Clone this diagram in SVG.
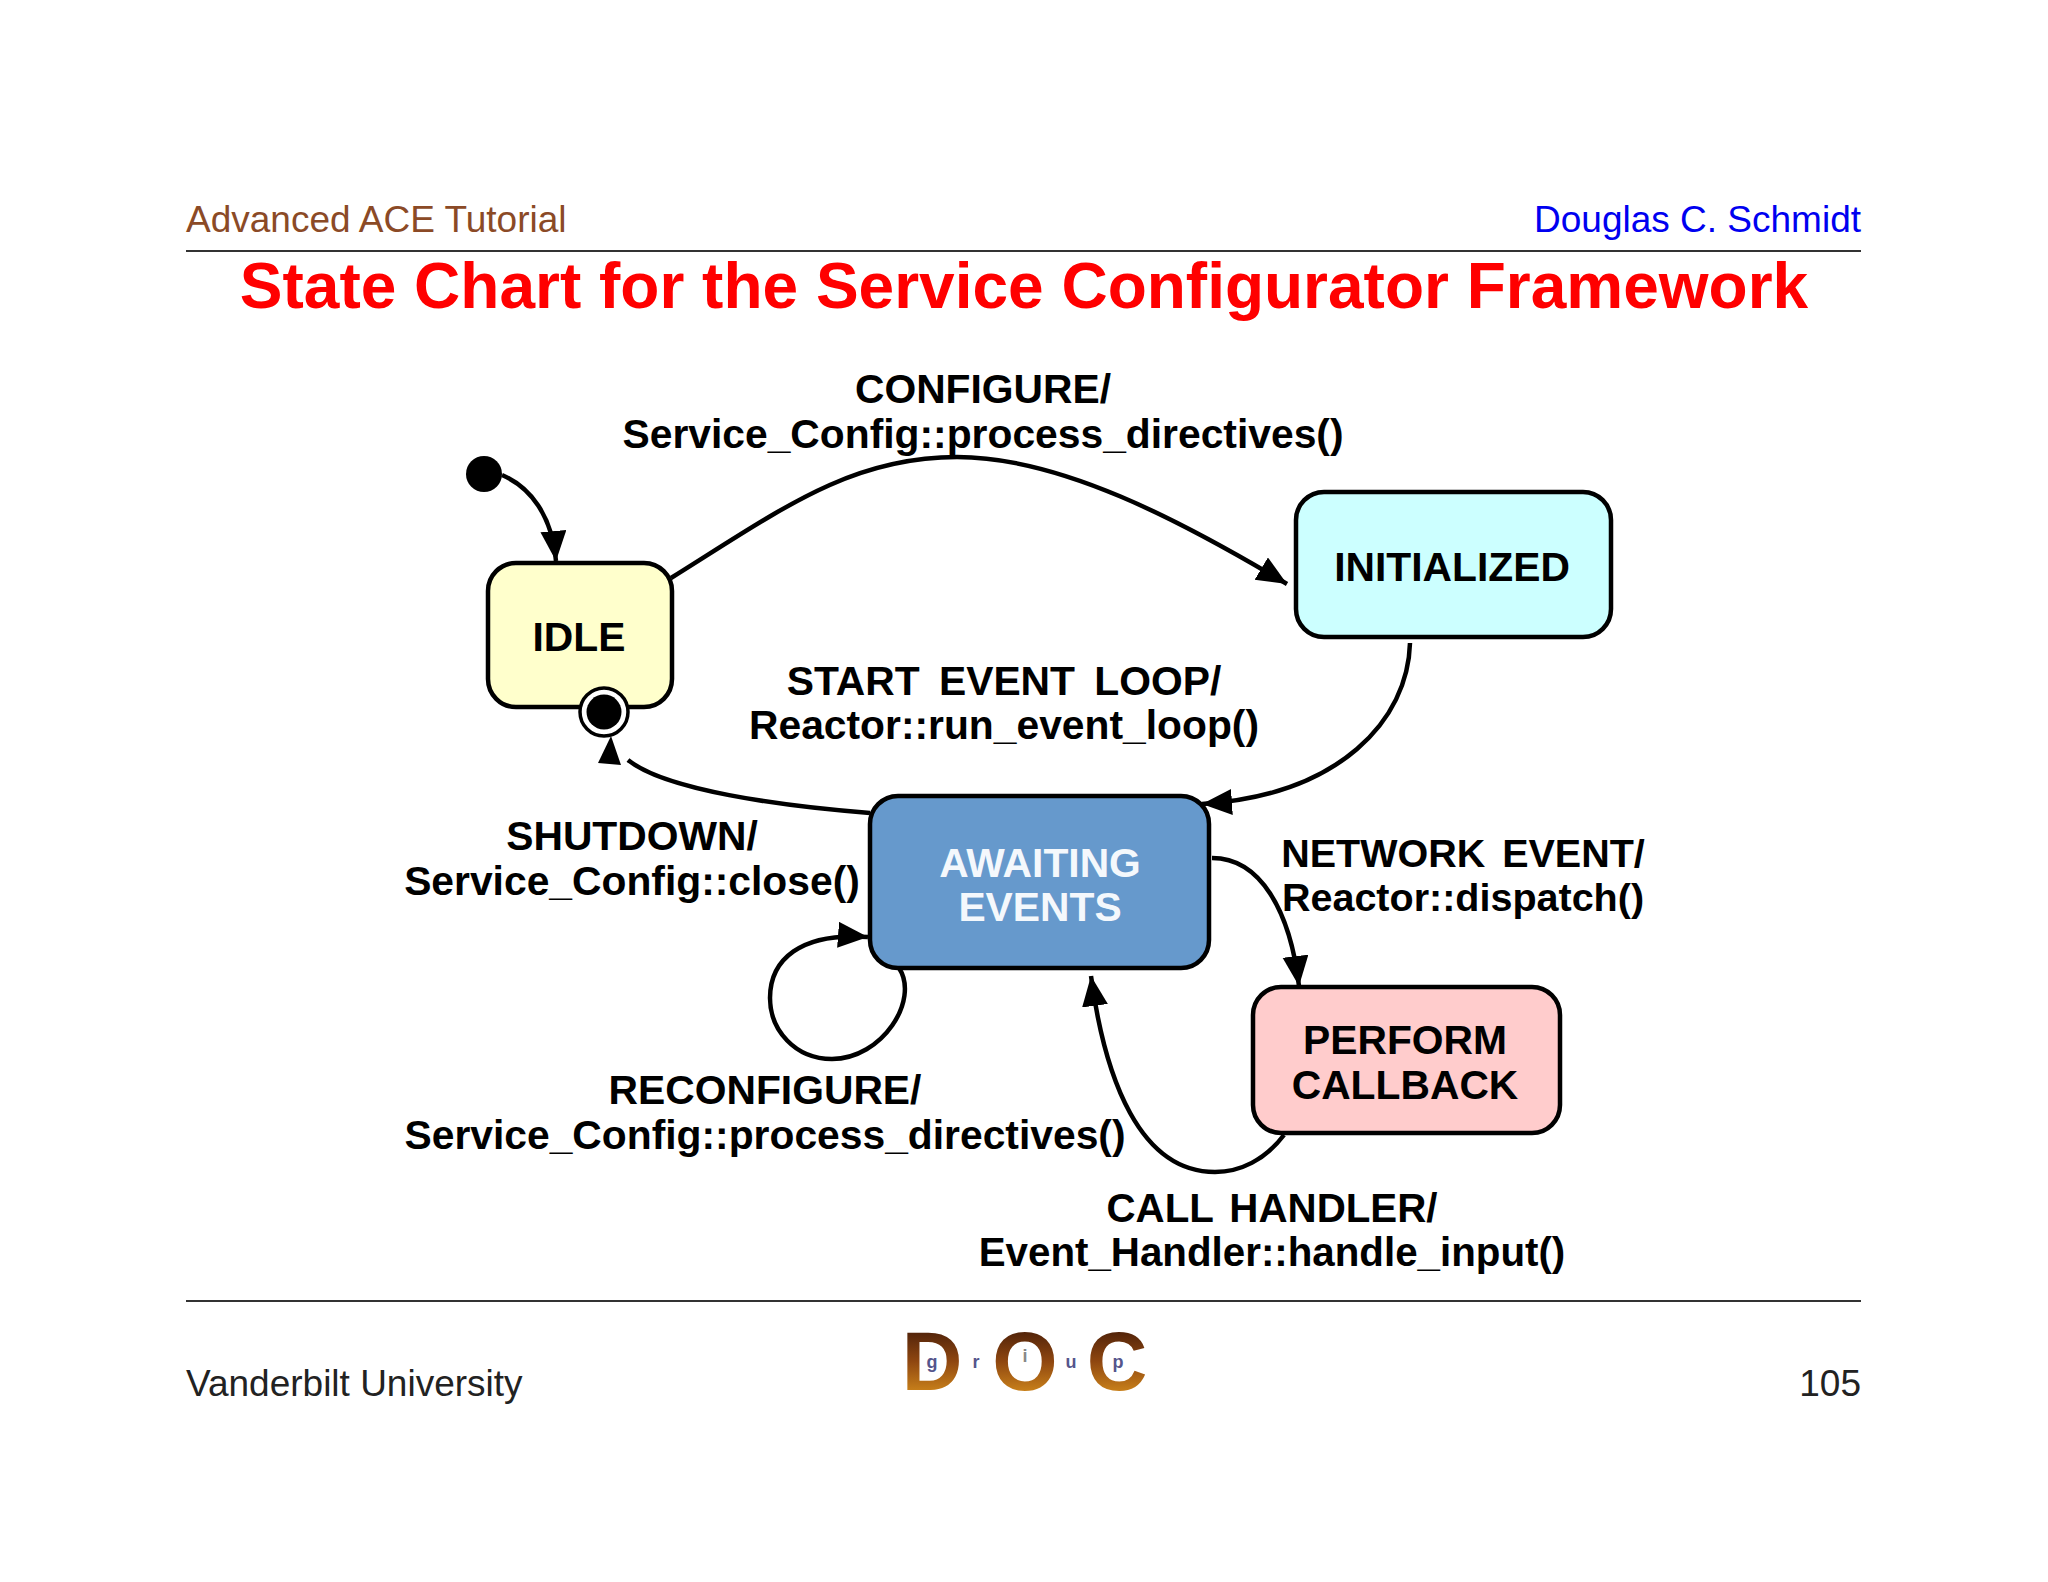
<svg xmlns="http://www.w3.org/2000/svg" width="2048" height="1582" viewBox="0 0 2048 1582">
<style>
text{font-family:"Liberation Sans",Arial,sans-serif}
.h{font-size:37px}
.l{font-size:40.8px;font-weight:bold;fill:#000;text-anchor:middle}
.n{font-size:39.5px}
.m{font-size:40.3px}
.s{stroke:#000;stroke-width:4.5}
.c{fill:none;stroke:#000;stroke-width:4.5}
.logo{font-size:84px;font-weight:bold;fill:url(#g);text-anchor:middle}
.sm{font-size:18px;font-weight:bold;fill:#55558c;text-anchor:middle}
</style>
<defs>
<marker id="a" markerUnits="userSpaceOnUse" markerWidth="32" markerHeight="28" refX="30" refY="13" orient="auto"><path d="M0,0L30,13L0,26z" fill="#000"/></marker>
<linearGradient id="g" x1="0" y1="0" x2="0" y2="1"><stop offset="0" stop-color="#2e0f06"/><stop offset=".5" stop-color="#8e4610"/><stop offset="1" stop-color="#e8a020"/></linearGradient>
</defs>
<rect width="2048" height="1582" fill="#fff"/>
<g id="header">
<text class="h" x="186" y="232" fill="#8b4a26">Advanced ACE Tutorial</text>
<text class="h" x="1861" y="232" fill="#0000f0" text-anchor="end">Douglas C. Schmidt</text>
<path d="M186,251H1861" stroke="#333" stroke-width="2"/>
<text x="1024" y="308" font-size="64" font-weight="bold" fill="#f00" text-anchor="middle">State Chart for the Service Configurator Framework</text>
</g>
<g id="connectors">
<path class="c" d="M502,475C530,487 552,515 556,561" marker-end="url(#a)"/>
<path class="c" d="M671,578C780,510 850,457 957,457C1060,457 1180,520 1287,584" marker-end="url(#a)"/>
<path class="c" d="M1410,643C1408,720 1340,795 1202,804" marker-end="url(#a)"/>
<path class="c" d="M870,813C780,806 665,790 628,760"/>
<polygon points="611,736 598,763 621,765" fill="#000"/>
<path class="c" d="M899,968C920,1000 882,1059 832,1059C795,1059 770,1030 770,998C770,960 800,932 868,937" marker-end="url(#a)"/>
<path class="c" d="M1212,858C1260,858 1290,910 1299,986" marker-end="url(#a)"/>
<path class="c" d="M1284,1135C1265,1160 1240,1172 1215,1172C1140,1172 1105,1080 1091,976" marker-end="url(#a)"/>
</g>
<g id="start"><circle cx="484" cy="474" r="18" fill="#000"/></g>
<g id="idle">
<rect class="s" x="488" y="563" width="184" height="144" rx="28" fill="#ffffcc"/>
<text class="l" x="579" y="651">IDLE</text>
</g>
<g id="final"><circle class="s" cx="604" cy="712" r="24" fill="#fff" style="stroke-width:3.5"/><circle cx="604" cy="712" r="17.5" fill="#000"/></g>
<g id="initialized">
<rect class="s" x="1296" y="492" width="315" height="145" rx="28" fill="#ccffff"/>
<text class="l" x="1452" y="581">INITIALIZED</text>
</g>
<g id="awaiting">
<rect class="s" x="870" y="796" width="339" height="172" rx="28" fill="#6699cc"/>
<text class="l" x="1040" y="877" style="fill:#f4f8fc">AWAITING</text>
<text class="l" x="1040" y="921" style="fill:#f4f8fc">EVENTS</text>
</g>
<g id="perform">
<rect class="s" x="1253" y="987" width="307" height="146" rx="28" fill="#ffcccc"/>
<text class="l" x="1405" y="1054">PERFORM</text>
<text class="l" x="1405" y="1099">CALLBACK</text>
</g>
<g id="labels">
<text class="l" x="983" y="403">CONFIGURE/</text>
<text class="l" x="983" y="448">Service_Config::process_directives()</text>
<text class="l" x="1004" y="695" word-spacing="8">START EVENT LOOP/</text>
<text class="l" x="1004" y="739">Reactor::run_event_loop()</text>
<text class="l" x="632" y="850">SHUTDOWN/</text>
<text class="l" x="632" y="895">Service_Config::close()</text>
<text class="l n" x="1463" y="867" word-spacing="6">NETWORK EVENT/</text>
<text class="l n" x="1463" y="911">Reactor::dispatch()</text>
<text class="l" x="765" y="1104">RECONFIGURE/</text>
<text class="l" x="765" y="1149">Service_Config::process_directives()</text>
<text class="l m" x="1272" y="1222" word-spacing="5">CALL HANDLER/</text>
<text class="l m" x="1272" y="1266">Event_Handler::handle_input()</text>
</g>
<g id="footer">
<path d="M186,1301H1861" stroke="#333" stroke-width="2"/>
<text class="h" x="186" y="1396" fill="#222">Vanderbilt University</text>
<text class="h" x="1861" y="1396" fill="#222" text-anchor="end">105</text>
</g>
<g id="logo">
<text class="logo" x="932" y="1390">D</text>
<text class="logo" x="1025" y="1390">O</text>
<text class="logo" x="1117" y="1390">C</text>
<text class="sm" x="932" y="1368">g</text>
<text class="sm" x="976" y="1368">r</text>
<text class="sm" x="1025" y="1362" style="fill:#888">i</text>
<text class="sm" x="1071" y="1368">u</text>
<text class="sm" x="1118" y="1368">p</text>
</g>
</svg>
